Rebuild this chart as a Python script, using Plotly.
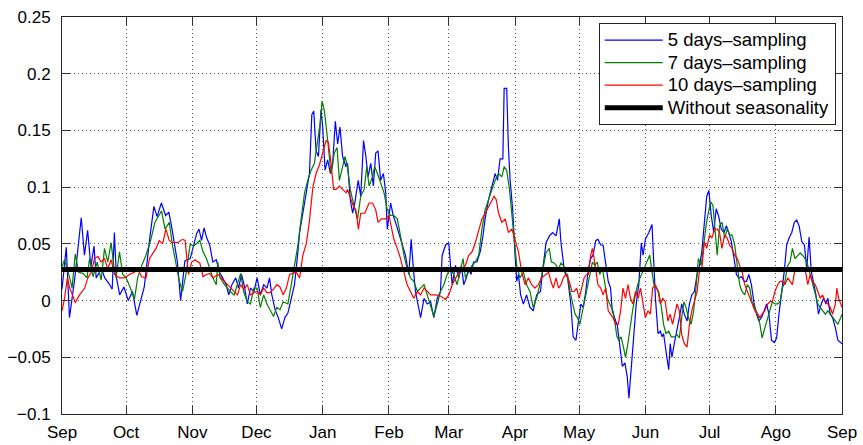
import plotly.graph_objects as go

# x = days since 1 September; tick labels at month starts
month_days = [0, 30, 61, 91, 122, 153, 181, 212, 242, 273, 303, 334, 365]
month_labels = ["Sep", "Oct", "Nov", "Dec", "Jan", "Feb", "Mar", "Apr", "May", "Jun", "Jul", "Ago", "Sep"]
y_ticks = [-0.1, -0.05, 0, 0.05, 0.1, 0.15, 0.2, 0.25]
y_labels = ["\u22120.1", "\u22120.05", "0", "0.05", "0.1", "0.15", "0.2", "0.25"]

blue_day = [0, 2, 3.5, 6, 9, 10.5, 12, 13.5, 15, 16, 18.5, 20, 22, 23.5, 24.5, 25.5, 27, 29, 31, 33, 35, 37, 38.5, 41, 43, 44.5, 46.5, 48.5, 50, 51.5, 54, 55.5,
            57.5, 60, 63, 64.1, 65.3, 66.5, 67.6, 69.1, 70.6, 72.2, 73.7, 75.2, 76.8, 78, 79.5, 81.3, 82.6, 84, 85.2, 86.7, 88.2, 89.8, 91.3, 92.8, 94.4, 95.9, 97.1, 98.2, 99.7, 101.2, 102.8, 104.3,
            105.7, 107.3, 108.8, 110.4, 111.2, 112.7, 114.3, 115.8, 116.9, 117.8, 118.9, 120, 121.2, 122, 123.1, 124.3, 125.6, 126.6, 127.9, 129, 130.1, 131.3, 132.9, 133.6, 134.9, 136, 137, 138.6, 139.8, 141.1, 142.2, 143.2, 144.5, 145.7, 146.8, 147.9, 149.1, 150.4, 151.5, 152.2, 153.8, 155, 156.1, 157.6, 159.2, 160.7, 162.3, 163.4, 164.3, 165.4,
            167.8, 169.4, 170.9, 172.5, 174, 175.6, 177.1, 177.9, 179.5, 181, 181.8, 182.6, 184.1, 185.7, 186.9, 188, 189.2, 190.3, 191.4, 192.6, 194.2, 195.7, 197, 198, 199.6, 201.2, 202.7, 203.8, 205, 206.3, 206.9, 208.1, 208.9, 209.7, 210.9, 212, 212.8, 213.6, 214.6, 215.9, 217.4, 219, 220.5, 222.1, 223.9, 225.2,
            226.5, 228.1, 229.6, 231.2, 232.7, 233.5, 235, 236.6, 238.1, 239.2, 240.5, 241.7, 242.8, 243.9, 245.1, 246.3, 247.4, 248.5, 249.8, 250.8, 252.1, 253.2, 254.4, 255.6, 256.7, 257.5, 259.1, 259.8, 260.9, 262.2, 263.4, 264.5, 265.3, 266.5, 267.6, 268.7, 269.9, 271.1, 271.9, 273, 274.6, 276.1, 276.9, 277.7, 278.9, 280, 280.8, 281.5, 282.6, 283.9, 284.6, 285.4,
            286.5, 287.8, 288.9, 290, 291.2, 292.5, 293.6, 294.7, 295.9, 297.2, 298.3, 299.4, 300.6, 301.7, 302.7, 303.8, 305, 306.1, 307.2, 308.5, 309.8, 310.9, 312, 313.2, 314.5, 315.6, 316.7, 318, 319.2, 320.3, 321.4, 322.6, 323.9, 325, 326.1, 327.3, 328.6, 329.7, 330.8, 332, 333.3, 334.4, 335.5, 336.8, 338, 339.1, 340.2, 341.5, 342.7, 343.8, 344.9, 346.2, 347.4, 348.5, 349.6, 350.6, 351.7, 352.8, 354, 355.3, 356.4, 357.5, 358.4, 359.5, 360.6, 361.9, 363.1, 365]
blue_val = [0.01, 0.047, -0.015, 0.02, 0.073, 0.04, 0.062, 0.03, 0.048, 0.02, 0.028, 0.02, 0.015, 0.01, 0.06, 0.02, 0.005, 0.012, 0.0, 0.008, -0.013, 0.0, 0.012, 0.054, 0.083, 0.074, 0.086, 0.075, 0.078, 0.063, 0.034, 0.0,
            0.035, 0.037, 0.059, 0.063, 0.053, 0.064, 0.056, 0.049, 0.034, 0.036, 0.025, 0.02, 0.014, 0.005, 0.014, 0.02, 0.011, 0.023, 0.014, -0.003, 0.011, 0.008, 0.02, 0.005, 0.014, 0.011, 0.02, 0.005, -0.008, -0.015, -0.025, -0.015,
            -0.011, 0.002, 0.014, 0.043, 0.06, 0.077, 0.095, 0.112, 0.164, 0.167, 0.132, 0.127, 0.168, 0.153, 0.115, 0.124, 0.112, 0.119, 0.158, 0.138, 0.153, 0.127, 0.118, 0.121, 0.089, 0.077, 0.086, 0.106, 0.092, 0.141, 0.127, 0.109, 0.121, 0.101, 0.13, 0.132, 0.106, 0.112, 0.095, 0.063, 0.086, 0.075, 0.069, 0.06, 0.051, 0.04, 0.023, 0.054, 0.031, 0.008,
            -0.015, 0.002, -0.003, -0.001, -0.015, 0.002, 0.008, 0.04, 0.049, 0.051, 0.031, 0.014, 0.031, 0.02, 0.031, 0.014, 0.02, 0.028, 0.023, 0.034, 0.034, 0.043, 0.057, 0.072, 0.089, 0.101, 0.112, 0.106, 0.125, 0.125, 0.187, 0.187, 0.135, 0.106, 0.08, 0.04, 0.017, 0.023, 0.005, -0.003, 0.005, -0.006, -0.009, 0.005, 0.008, 0.031,
            0.051, 0.057, 0.06, 0.057, 0.072, 0.051, 0.028, 0.02, -0.003, -0.032, -0.035, -0.018, -0.003, -0.006, 0.008, 0.028, 0.037, 0.04, 0.053, 0.054, 0.049, 0.049, 0.031, 0.017, 0.011, -0.009, -0.018, -0.021, -0.038, -0.058, -0.055, -0.067, -0.086, -0.055, -0.035, -0.003, 0.014, 0.051, 0.04, 0.054, 0.06, 0.067, 0.034, 0.002, -0.029, -0.027, -0.032, -0.029, -0.044, -0.061, -0.038, -0.05,
            -0.038, -0.027, -0.015, -0.003, -0.012, -0.018, -0.003, 0.005, 0.008, 0.023, 0.031, 0.043, 0.066, 0.092, 0.097, 0.075, 0.06, 0.081, 0.075, 0.063, 0.06, 0.066, 0.06, 0.052, 0.037, 0.023, 0.02, 0.021, 0.017, 0.017, 0.023, 0.014, -0.003, -0.012, -0.018, -0.015, -0.009, -0.003, -0.012, -0.035, -0.037, -0.033, -0.012, 0.008, 0.026, 0.049, 0.055, 0.06, 0.069, 0.071, 0.066, 0.052, 0.049, 0.028, 0.056, 0.026, 0.014, 0.005, -0.012, -0.003, 0.002, -0.003, 0.002, -0.012, -0.015, -0.024, -0.035, -0.038]

green_day = [0, 1.2, 3.6, 4.7, 6.2, 7.8, 9.8, 11.7, 12.9, 14.5, 16.5, 18.3, 19.9, 21.4, 23, 24.2, 25.3, 26.9, 28.4, 30, 32, 33.9, 35.4, 37.3, 39.3, 41.6, 43.5, 45.5, 46.6, 48.2, 50.2, 51.7, 53.3, 54.9, 56.4,
             58, 60, 61.5, 64.5, 66, 67.6, 69.1, 70.6, 72.2, 72.9, 74, 75.7, 78.7, 80.6, 83.6, 85, 86.7, 88.2, 89.8, 91.3, 92.8, 94.4, 95.9, 97.4, 99, 100.5, 102, 103.5,
             105.7, 107.3, 108.8, 110.4, 111.9, 113.5, 115, 116.6, 118.1, 119.7, 120.8, 121.7, 122.8, 124, 125.1, 125.9, 127.4, 128.7, 129.8, 131.3, 132.4, 133.6, 134.9, 136.7, 138.3, 139.8, 141.4, 142.6, 143.7, 145.3, 146.3, 147.6, 149.1, 150.7, 152.2, 153.8, 155.3, 156.9, 158.4, 160, 161.5, 163.1, 164.6,
             166.3, 167.8, 169.4, 170.9, 172.5, 174, 175.6, 177.1, 178.7, 180.2, 181.8, 183.3, 184.9, 186.4, 187.7, 188.8, 190.3, 191.9, 193.4, 195, 196.5, 198, 199.6, 201.2, 202.7, 204.3, 205.8, 206.9, 208.1, 209.4, 210.5, 211.5, 212.8, 214.3, 215.9, 217.4, 219, 220.5, 222.1, 223.6, 225.2,
             226.5, 228, 229, 230.5, 232.4, 233.5, 234.6, 235.5, 236.6, 237.7, 238.9, 240.1, 241.2, 242.3, 243.6, 244.8, 245.9, 247, 248.2, 249.3, 250.5, 251.6, 252.9, 254.1, 255.2, 256.3, 257.8, 258.6, 259.7, 260.6, 261.6, 262.7, 263.7, 264.8, 265.8, 267, 268.3, 269.4, 270.5, 271.6, 272.8, 273.9, 275, 275.9, 277, 278, 279.2, 280.5, 281.5, 282.6, 283.9, 285.1,
             286.5, 287.8, 288.9, 290, 291, 292, 293.1, 294.4, 295.6, 296.8, 297.8, 299.1, 300.3, 301.4, 302.2, 303.5, 304.6, 305.4, 306.6, 307.7, 308.9, 310.1, 311.3, 312.4, 313.5, 314.8, 316, 317.1, 318.2, 319.5, 320.7, 321.8, 322.9, 324.2, 325.5, 326.6, 327.6, 328.9, 330.2, 331.3, 332.4, 333.6, 334.9, 336, 337.1, 338.3, 339.6, 340.7, 341.8, 343, 344.3, 345.4, 346.5, 347.7, 349, 350.1, 351.2, 352.5, 353.7, 354.8, 355.9, 357.2, 358.4, 359.5, 360.6, 361.9, 363.1, 365]
green_val = [0.03, 0.036, 0.02, 0.011, 0.041, 0.025, 0.024, 0.02, 0.037, 0.021, 0.034, 0.018, 0.046, 0.034, 0.051, 0.031, 0.02, 0.043, 0.023, 0.02, 0.011, 0.001, 0.02, 0.031, 0.04, 0.054, 0.069, 0.075, 0.079, 0.063, 0.069, 0.049, 0.031, 0.017, 0.008,
             0.023, 0.05, 0.048, 0.053, 0.043, 0.037, 0.028, 0.02, 0.014, 0.034, 0.02, 0.015, 0.008, 0.005, 0.024, 0.008, -0.001, -0.003, 0.011, 0.011, -0.006, 0.005, -0.003, -0.009, -0.014, -0.006, -0.008, -0.001,
             -0.003, 0.014, 0.031, 0.049, 0.072, 0.095, 0.106, 0.115, 0.121, 0.141, 0.156, 0.176, 0.167, 0.147, 0.127, 0.112, 0.13, 0.135, 0.106, 0.118, 0.127, 0.118, 0.098, 0.083, 0.072, 0.092, 0.098, 0.118, 0.101, 0.109, 0.118, 0.112, 0.103, 0.095, 0.08, 0.075, 0.075, 0.072, 0.057, 0.04, 0.028, 0.02, 0.017,
             0.008, 0.011, 0.014, 0.005, -0.006, -0.014, -0.003, 0.008, 0.014, 0.023, 0.028, 0.023, 0.014, 0.025, 0.037, 0.02, 0.025, 0.031, 0.034, 0.04, 0.063, 0.08, 0.089, 0.098, 0.106, 0.112, 0.109, 0.118, 0.115, 0.098, 0.077, 0.06, 0.031, 0.02, 0.025, 0.014, 0.008, -0.006, 0.002, 0.014, 0.028,
             0.042, 0.046, 0.034, 0.033, 0.028, 0.033, 0.031, 0.023, 0.023, 0.008, -0.003, -0.012, -0.015, -0.021, -0.009, 0.002, 0.014, 0.023, 0.034, 0.031, 0.034, 0.023, 0.028, 0.014, 0.002, -0.003, -0.009, -0.018, -0.032, -0.035, -0.032, -0.041, -0.05, -0.038, -0.024, -0.009, 0.005, 0.014, 0.02, 0.025, 0.031, 0.036, 0.04, 0.028, 0.014, 0.011, 0.008, -0.006, -0.021, -0.029, -0.027, -0.032,
             -0.032, -0.03, -0.033, -0.015, -0.001, -0.006, -0.015, -0.021, -0.009, 0.014, 0.037, 0.031, 0.052, 0.066, 0.075, 0.087, 0.084, 0.066, 0.04, 0.066, 0.069, 0.055, 0.063, 0.058, 0.058, 0.049, 0.028, 0.014, 0.008, 0.005, 0.014, 0.011, -0.001, -0.006, -0.012, -0.021, -0.033, -0.024, -0.015, -0.009, -0.001, -0.003, -0.003, -0.001, 0.011, 0.017, 0.031, 0.034, 0.046, 0.037, 0.04, 0.042, 0.04, 0.037, 0.031, 0.023, 0.014, 0.005, -0.003, -0.006, -0.009, -0.012, -0.009, -0.012, -0.015, -0.018, -0.021, -0.012]

red_day = [0, 1.2, 2.5, 3.6, 5.1, 6.2, 8.2, 10.6, 12.1, 13.7, 15.2, 16.8, 18.3, 19.9, 21.4, 23, 24.6, 26.9, 29.2, 31.5, 33.9, 35.4, 37.3, 39.3, 40.9, 42.4, 44, 45.5, 47.1, 48.6, 50.2, 51.7, 54.1, 56.4,
           57.6, 59.2, 60.7, 62.2, 64.5, 66, 67.6, 69.1, 70.6, 72.9, 74.5, 76, 77.5, 79.1, 80.6, 82.1, 83.6, 85.2, 86.7, 88.2, 89.8, 91.3, 92.8, 94.4, 95.9, 97.4, 99, 100.5, 102, 103.5, 105,
           106.5, 108, 109.6, 111.2, 112.7, 114.3, 115.8, 117.4, 118.9, 120.5, 122, 123.6, 124.6, 125.9, 127.1, 128.2, 129.8, 131.3, 132.9, 133.6, 135.2, 136.4, 137.5, 138.7, 139.8, 141.7, 143.7, 145.3, 146.8, 147.9, 149.4, 151.5, 153, 154.1, 155.3, 156.9, 158.4, 160, 161.5, 163.1, 164.6,
           166.3, 167.8, 169.4, 170.9, 172.5, 174.8, 177.1, 179.5, 181, 182.6, 184.1, 185.7, 187.2, 188.8, 190.3, 191.9, 193.4, 195, 196.5, 198, 199.6, 201.2, 202.2, 203.2, 204.3, 205.8, 207.4, 208.9, 210.5, 212, 213.6, 215.1, 216.7, 218.2, 219.8, 221.3, 222.9, 224.4,
           226.5, 227.7, 228.8, 229.9, 231.2, 232.4, 233.5, 234.6, 235.8, 237.4, 238.6, 239.7, 240.8, 242, 243.2, 244.3, 245.4, 246.3, 247.4, 248.2, 249, 249.8, 250.8, 252.1, 253.2, 254.4, 255.6, 256.7, 257.8, 259.1, 260.3, 261.4, 262.5, 263.7, 264.9, 266, 267.1, 268.4, 269.6, 270.7, 271.8, 273, 274.2, 275.3, 276.4, 277.7, 278.9, 280, 281.1, 282.3, 283.5, 284.6, 285.7,
           286.5, 287.8, 288.9, 290, 291.2, 292.5, 293.6, 294.7, 295.9, 297.2, 298.3, 299.4, 300.6, 301.7, 303, 304.1, 305.4, 306.6, 307.7, 308.8, 310.1, 311.3, 312.4, 313.5, 314.8, 316, 317.1, 318.2, 319.5, 320.7, 321.8, 322.9, 324.2, 325.5, 326.6, 327.6, 328.9, 330.2, 331.3, 332.4, 333.6, 334.9, 336, 337.1, 338.3, 339.6, 340.7, 341.8, 343, 344.3, 345.4, 346.5, 347.7, 349, 350.1, 351.2, 352.5, 353.7, 354.8, 355.9, 357.2, 358.4, 359.5, 360.6, 361.9, 362.6, 363.4, 365]
red_val = [-0.009, 0.002, 0.02, 0.011, 0.004, -0.002, 0.005, 0.011, 0.02, 0.025, 0.037, 0.039, 0.034, 0.037, 0.028, 0.036, 0.023, 0.02, 0.02, 0.023, 0.025, 0.028, 0.021, 0.02, 0.037, 0.041, 0.046, 0.053, 0.05, 0.063, 0.053, 0.051, 0.051, 0.054,
           0.053, 0.023, 0.034, 0.036, 0.033, 0.021, 0.023, 0.024, 0.02, 0.023, 0.02, 0.017, 0.014, 0.011, 0.008, 0.005, 0.014, 0.01, 0.014, 0.005, 0.007, 0.008, 0.005, 0.011, 0.007, 0.007, 0.01, 0.014, 0.012, 0.005, 0.011,
           0.023, 0.024, 0.025, 0.02, 0.04, 0.05, 0.07, 0.1, 0.112, 0.12, 0.13, 0.141, 0.14, 0.121, 0.098, 0.098, 0.101, 0.098, 0.095, 0.098, 0.089, 0.083, 0.08, 0.063, 0.077, 0.077, 0.086, 0.086, 0.08, 0.069, 0.072, 0.072, 0.075, 0.066, 0.054, 0.046, 0.037, 0.025, 0.014, 0.008, 0.002,
           0.008, 0.005, 0.011, 0.008, 0.005, 0.005, 0.004, 0.001, 0.005, 0.014, 0.02, 0.025, 0.028, 0.031, 0.04, 0.043, 0.051, 0.063, 0.072, 0.077, 0.083, 0.089, 0.092, 0.089, 0.077, 0.069, 0.072, 0.06, 0.063, 0.054, 0.043, 0.025, 0.014, 0.02, 0.014, 0.011, 0.014, 0.02,
           0.023, 0.025, 0.017, 0.011, 0.02, 0.011, 0.014, 0.02, 0.023, 0.017, 0.008, 0.008, 0.011, 0.002, 0.011, 0.02, 0.023, 0.023, 0.04, 0.046, 0.037, 0.028, 0.014, 0.011, 0.005, 0.011, -0.009, -0.012, -0.015, -0.021, -0.021, -0.009, 0.011, 0.002, 0.014, 0.002, -0.003, 0.008, 0.002, 0.011, -0.003, -0.015, -0.009, -0.012, 0.011, 0.014, 0.008, -0.003, 0.002, -0.001, -0.018, -0.012, -0.021,
           -0.015, -0.003, -0.009, -0.03, -0.038, -0.041, -0.021, -0.009, -0.001, 0.008, 0.026, 0.028, 0.052, 0.046, 0.058, 0.055, 0.063, 0.063, 0.06, 0.046, 0.058, 0.055, 0.049, 0.046, 0.04, 0.037, 0.031, 0.026, 0.014, 0.008, 0.002, -0.003, -0.009, -0.012, -0.015, -0.012, -0.009, -0.003, -0.001, -0.001, 0.008, 0.014, 0.017, 0.017, 0.014, 0.02, 0.017, 0.014, 0.028, 0.026, 0.028, 0.028, 0.028, 0.014, 0.023, 0.017, 0.014, 0.008, 0.002, 0.005, -0.001, -0.003, -0.006, -0.012, -0.003, 0.011, 0.002, -0.006]

no_season_days = [0, 365]
no_season_val = [0.0275, 0.0275]

series_names = ["5 days\u2013sampling", "7 days\u2013sampling", "10 days\u2013sampling", "Without seasonality"]

FONT = "Liberation Sans, Arial, Helvetica, sans-serif"


def legend_label(text):
    # larger glyphs while keeping the legend row spacing of a 15px legend font
    return '<span style="font-size:18.5px">' + text + '</span>'


fig = go.Figure()
fig.add_trace(go.Scatter(x=blue_day, y=blue_val, mode="lines", name=legend_label(series_names[0]),
                         line=dict(color="#0000ff", width=1.2)))
fig.add_trace(go.Scatter(x=green_day, y=green_val, mode="lines", name=legend_label(series_names[1]),
                         line=dict(color="#007f00", width=1.2)))
fig.add_trace(go.Scatter(x=red_day, y=red_val, mode="lines", name=legend_label(series_names[2]),
                         line=dict(color="#ff0000", width=1.2)))
fig.add_trace(go.Scatter(x=no_season_days, y=no_season_val, mode="lines", name=legend_label(series_names[3]),
                         line=dict(color="#000000", width=5)))

axis_common = dict(showline=True, linecolor="#222222", linewidth=1, mirror="ticks",
                   ticks="inside", ticklen=8, tickcolor="#333333", automargin=False,
                   showgrid=True, gridcolor="#555555", griddash="1px,3px", gridwidth=1,
                   zeroline=False, tickfont=dict(family=FONT, size=17, color="black"))

fig.update_xaxes(range=[0, 365], tickmode="array", tickvals=month_days, ticktext=month_labels,
                 ticklabelstandoff=3, **axis_common)
fig.update_yaxes(range=[-0.1, 0.25], tickmode="array", tickvals=y_ticks, ticktext=y_labels,
                 ticklabelstandoff=7, **axis_common)

fig.update_layout(
    width=863, height=445,
    margin=dict(l=62, r=21, t=17, b=31),
    plot_bgcolor="white", paper_bgcolor="white",
    font=dict(family=FONT, size=17, color="black"),
    showlegend=True,
    legend=dict(x=0.992, y=0.985, xanchor="right", yanchor="top",
                bgcolor="white", bordercolor="#222222", borderwidth=1,
                font=dict(family=FONT, size=15), itemwidth=58, tracegroupgap=0),
)

fig.write_html("out.html", config={"displayModeBar": False},
               post_script="document.body.style.margin='0';")
